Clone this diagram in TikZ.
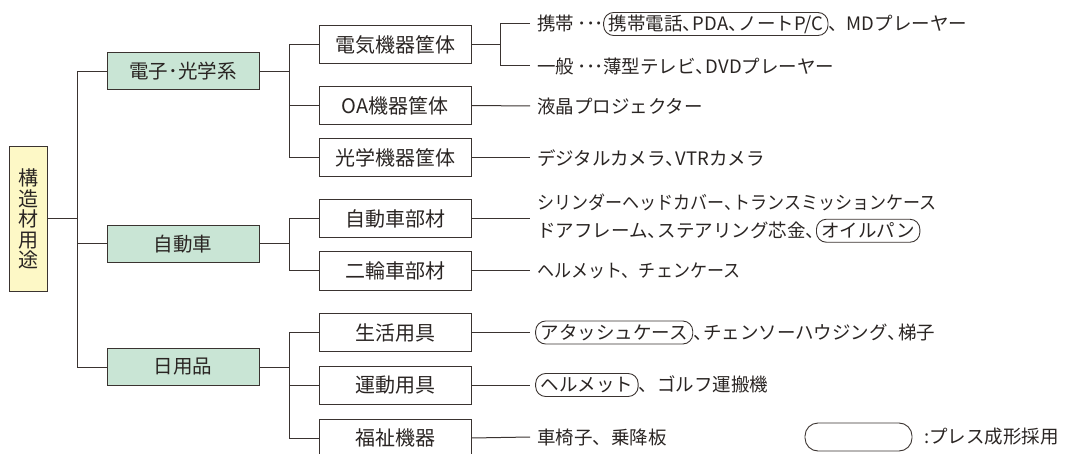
\documentclass[tikz,border=0pt]{standalone}
\usepackage{fontspec}
\usepackage{graphicx}
\setmainfont{Noto Sans CJK JP}
\definecolor{lc}{HTML}{3A3330}
\definecolor{tc}{HTML}{2A2523}
\definecolor{rootfill}{HTML}{FDF8C6}
\definecolor{catfill}{HTML}{C9E5D5}
\tikzset{
 basebox/.style={draw=lc, line width=1pt, text=tc, inner sep=0pt},
 rootbox/.style={basebox, fill=rootfill, minimum width=38pt, minimum height=144pt, align=center, font=\fontsize{20}{20.6}\selectfont},
 catbox/.style={basebox, fill=catfill, minimum width=152pt, minimum height=37pt, font=\fontsize{19.5}{20}\selectfont},
 subbox/.style={basebox, fill=white, minimum width=152pt, minimum height=38pt, font=\fontsize{20}{20}\selectfont},
 item/.style={text=tc, inner sep=0pt, anchor=west, font=\fontsize{18.5}{28}\selectfont, align=left},
 conn/.style={draw=lc, line width=1pt},
 pressov/.style={draw=lc, line width=0.9pt, rounded corners=10pt, inner xsep=5pt, inner ysep=0pt, minimum height=23pt, text=tc}
}
\newcommand\pressmark[1]{\tikz[baseline=(pm.base)]\node[pressov](pm){#1};}
\newcommand\nc{\makebox[0.55em][l]{、}}
\newcommand\dts{\makebox[29pt][l]{\hspace{8pt}\makebox[0pt]{･}\hspace{8.5pt}\makebox[0pt]{･}\hspace{8.5pt}\makebox[0pt]{･}}}
\begin{document}
\begin{tikzpicture}[x=1pt,y=-1pt]
\useasboundingbox (0,0) rectangle (1073,454);
% root
\node[rootbox] (root) at (28,219) {構\\造\\材\\用\\途};
% level 1
\node[catbox] (c1) at (183,71.5) {電子･光学系};
\node[catbox] (c2) at (183,244) {自動車};
\node[catbox] (c3) at (183,367) {日用品};
% level 2
\node[subbox] (e1) at (395,44.5) {電気機器筐体};
\node[subbox] (e2) at (395,105.5) {OA機器筐体};
\node[subbox] (e3) at (395,158) {光学機器筐体};
\node[subbox] (a1) at (395,218.5) {自動車部材};
\node[subbox] (a2) at (395,271) {二輪車部材};
\node[subbox] (d1) at (395,332.5) {生活用具};
\node[subbox] (d2) at (395,385) {運動用具};
\node[subbox] (d3) at (395,438) {福祉機器};
% items
\node[item] (l1) at (537,24) {携帯\dts\pressmark{携帯電話\nc PDA\nc ノートP/C}、MDプレーヤー};
\node[item] (l2) at (537,66) {一般\dts 薄型テレビ\nc DVDプレーヤー};
\node[item] (l3) at (537,106) {液晶プロジェクター};
\node[item] (l4) at (537,158) {デジタルカメラ\nc VTRカメラ};
\node[item] (l5) at (537,218.5) {\scalebox{0.92}[1]{シリンダーヘッドカバー\nc トランスミッションケース}\\ドアフレーム\nc ステアリング芯金\nc\pressmark{オイルパン}};
\node[item] (l6) at (537,271) {\scalebox{0.92}[1]{ヘルメット、チェンケース}};
\node[item] (l7) at (535,332.5) {\pressmark{アタッシュケース}\nc チェンソーハウジング\nc 梯子};
\node[item] (l8) at (535,385) {\pressmark{ヘルメット}、ゴルフ運搬機};
\node[item] (l9) at (537,437) {車椅子、乗降板};
% legend
\node[pressov, minimum width=107pt, minimum height=28pt, rounded corners=13pt] (leg) at (858.5,437) {};
\node[item] (legt) at (924,437) {:プレス成形採用};
% trunk coordinates
\coordinate (b0) at (77,0);
\coordinate (b1) at (289,0);
\coordinate (b2) at (500,0);
\coordinate (b3) at (530,0);
% root -> level1
\draw[conn] (root.east) -- (root.east -| b0);
\draw[conn] (c1.west) -- (c1.west -| b0) -- (c3.west -| b0) -- (c3.west);
\draw[conn] (c2.west) -- (c2.west -| b0);
% level1 -> level2
\draw[conn] (c1.east) -- (c1.east -| b1);
\draw[conn] (e1.west) -- (e1.west -| b1) -- (e3.west -| b1) -- (e3.west);
\draw[conn] (e2.west) -- (e2.west -| b1);
\draw[conn] (c2.east) -- (c2.east -| b1);
\draw[conn] (a1.west) -- (a1.west -| b1) -- (a2.west -| b1) -- (a2.west);
\draw[conn] (c3.east) -- (c3.east -| b1);
\draw[conn] (d1.west) -- (d1.west -| b1) -- (d3.west -| b1) -- (d3.west);
\draw[conn] (d2.west) -- (d2.west -| b1);
% level2 -> items
\draw[conn] (e1.east) -- (e1.east -| b2);
\draw[conn] (l1.west -| b3) -- (l1.west -| b2) -- (l2.west -| b2) -- (l2.west -| b3);
\draw[conn] (e2.east) -- (l3.west -| b3);
\draw[conn] (e3.east) -- (l4.west -| b3);
\draw[conn] (a1.east) -- (l5.west -| b3);
\draw[conn] (a2.east) -- (l6.west -| b3);
\draw[conn] (d1.east) -- (l7.west -| b3);
\draw[conn] (d2.east) -- (l8.west -| b3);
\draw[conn] (d3.east) -- (l9.west -| b3);
\end{tikzpicture}
\end{document}
